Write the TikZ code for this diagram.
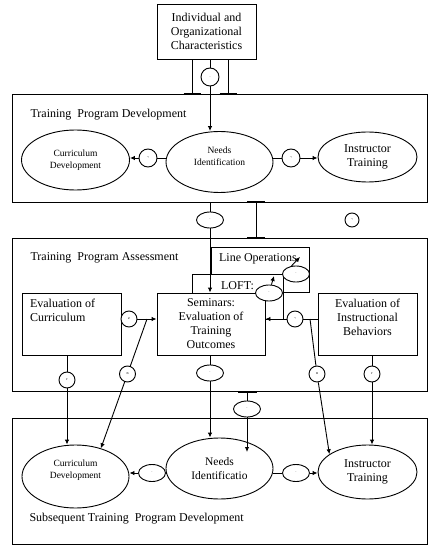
\documentclass[tikz,border=0pt]{standalone}
\usepackage{fontspec}
\setmainfont{Liberation Serif}
\usetikzlibrary{arrows.meta,positioning,shapes.geometric}
\tikzset{
  frame/.style={draw,line width=0.9pt,inner sep=0pt},
  block/.style={draw,line width=0.9pt,fill=white,inner sep=0pt},
  oval/.style={ellipse,draw,line width=0.9pt,fill=white,inner sep=0pt,align=center},
  atom/.style={circle,draw,line width=0.9pt,fill=white,inner sep=0pt,minimum size=16pt,font=\fontsize{4}{4}\selectfont},
  pill/.style={ellipse,draw,line width=0.9pt,fill=white,inner sep=0pt,minimum width=27pt,minimum height=16pt,font=\fontsize{4}{4}\selectfont},
  arr/.style={-{Latex[length=5pt,width=4.5pt]},line width=0.9pt},
  link/.style={line width=0.9pt},
  bar/.style={line width=2.6pt},
  big/.style={font=\fontsize{12}{14}\selectfont},
  small/.style={font=\fontsize{9.5}{12}\selectfont}
}
\begin{document}
\begin{tikzpicture}[x=1pt,y=-1pt]
 \useasboundingbox (0,0) rectangle (435,553);
 \node[frame,minimum width=415pt,minimum height=108pt] (tpd) at (219.5,148) {};
 \node[frame,minimum width=415pt,minimum height=153pt] (tpa) at (219.5,314.5) {};
 \node[frame,minimum width=415pt,minimum height=126pt] (stpd) at (219.5,481) {};
 \node[big,anchor=west] (t1) at (27,115) {Training\ \ Program Development};
 \node[big,anchor=west] (t2) at (27,258) {Training\ \ Program Assessment};
 \node[big,anchor=west] (t3) at (26,519) {Subsequent Training\ \ Program Development};
 \node[block,big,align=center,minimum width=99pt,minimum height=55pt] (chars) at (206.5,31.5) {Individual and\\Organizational\\Characteristics};
 \node[atom,minimum size=18pt] (tc) at (210,77) {.};
 \node[oval,small,minimum width=108pt,minimum height=60pt] (cd1) at (75.5,160) {Curriculum\\Development};
 \node[oval,minimum width=107pt,minimum height=61pt,label={[small,align=center,yshift=6pt]center:{Needs\\Identification}}] (ni1) at (219.5,162) {};
 \node[oval,big,minimum width=99pt,minimum height=50pt] (ti1) at (367.5,157) {Instructor\\Training};
 \node[atom,minimum size=18pt] (c1) at (148,158) {¬};
 \node[atom,minimum size=18pt] (c2) at (291,158) {¬};
 \coordinate (legL) at (192,94); \coordinate (legR) at (228,94);
 \draw[link] (legL |- chars.south) -- (legL); \draw[link] (legR |- chars.south) -- (legR);
 \draw[bar] ([xshift=-8.5pt]legL) -- ([xshift=8.5pt]legL); \draw[bar] ([xshift=-8.5pt]legR) -- ([xshift=8.5pt]legR);
 \draw[link] (tc) -- (tc |- chars.south); \draw[arr] (tc) -- (tc |- ni1.north);
 \draw[link] (ni1.west |- c1) -- (c1); \draw[arr] (c1) -- (c1 -| cd1.east);
 \draw[link] (ni1.east |- c2) -- (c2); \draw[arr] (c2) -- (c2 -| ti1.west);
 \node[pill] (p1) at (210,220) {·};
 \node[atom,minimum size=14pt] (c0) at (352,220) {¬};
 \coordinate (ibT) at (256,202); \coordinate (ibB) at (256,238);
 \draw[link] (ibT) -- (ibB);
 \draw[bar] ([xshift=-9pt]ibT) -- ([xshift=9pt]ibT); \draw[bar] ([xshift=-9pt]ibB) -- ([xshift=9pt]ibB);
 \node[block,minimum width=98pt,minimum height=45pt,label={[big,anchor=north west,xshift=5pt,yshift=-3pt]north west:{Line Operations}}] (lo) at (260,269.5) {};
 \node[block,minimum width=91pt,minimum height=45pt,label={[big,anchor=north,yshift=-4pt]north:{LOFT:}}] (lf) at (237.5,296.5) {};
 \node[block,big,align=center,minimum width=108pt,minimum height=62pt] (sem) at (211,324) {Seminars:\\Evaluation of\\Training\\Outcomes};
 \node[block,minimum width=99pt,minimum height=62pt,label={[big,align=left,anchor=north west,xshift=5pt,yshift=-3pt]north west:{Evaluation of\\Curriculum}}] (ec) at (71.5,324) {};
 \node[block,minimum width=99pt,minimum height=62pt,label={[big,align=center,anchor=north,yshift=-3pt]north:{Evaluation of\\Instructional\\Behaviors}}] (ei) at (367.5,324) {};
 \draw[link] (p1) -- (p1 |- tpd.south); \draw[arr] (p1) -- (p1 |- sem.north);
 \node[pill] (p2) at (269,293) {·};
 \node[pill] (p3) at (296,274) {·};
 \coordinate (loftIn) at (274,276); \coordinate (lineIn) at (300,257);
 \draw[arr] (p2) -- (loftIn); \draw[arr] (p3.120) -- (lineIn);
 \node[oval,minimum width=107pt,minimum height=63pt,label={[small,align=center,yshift=6pt]center:{Curriculum\\Development}}] (cd2) at (75.5,476.5) {};
 \node[oval,minimum width=107pt,minimum height=61pt,font=\fontsize{11.5}{14}\selectfont] (ni2) at (219.5,468.5) {Needs\\Identificatio};
 \node[oval,big,minimum width=99pt,minimum height=54pt] (ti2) at (367.5,472) {Instructor\\Training};
 \node[atom] (c3) at (129,319) {z};
 \node[atom] (c5) at (295,319) {¬};
 \draw[arr] (c3) -- (c3 -| sem.west);
 \draw[link] (ei.west |- c5) -- (c5); \draw[arr] (c5) -- (c5 -| sem.east);
 \coordinate (jl) at (147,319); \coordinate (jr) at (310,319);
 \node[atom] (c6) at (127.5,374) {n};
 \node[atom] (c7) at (317,374) {n};
 \draw[link] (jl) -- (c6); \draw[arr] (c6) -- (cd2.48);
 \draw[link] (jr) -- (c7); \draw[arr] (c7) -- (ti2.155);
 \node[atom] (c4) at (67,380) {r};
 \node[pill] (p4) at (210,373) {·};
 \node[atom] (c8) at (372,374) {r};
 \draw[link] (c4 |- ec.south) -- (c4); \draw[arr] (c4) -- (c4 |- cd2.north);
 \draw[link] (p4 |- sem.south) -- (p4); \draw[arr] (p4) -- (p4 |- ni2.north);
 \draw[link] (c8 |- ei.south) -- (c8); \draw[arr] (c8) -- (c8 |- ti2.north);
 \coordinate (ibC) at (247,392); \coordinate (needsIn) at (247,452);
 \node[pill] (p5) at (247,409) {·};
 \draw[bar] ([xshift=-9.5pt]ibC) -- ([xshift=9.5pt]ibC); \draw[link] (ibC) -- (p5); \draw[arr] (p5) -- (needsIn);
 \node[pill,minimum height=17pt] (p6) at (152,473) {·};
 \node[pill,minimum height=17pt] (p7) at (296,473) {·};
 \draw[link] (ni2.west |- p6) -- (p6); \draw[arr] (p6) -- (p6 -| cd2.east);
 \draw[link] (ni2.east |- p7) -- (p7); \draw[arr] (p7) -- (p7 -| ti2.west);
\end{tikzpicture}
\end{document}
